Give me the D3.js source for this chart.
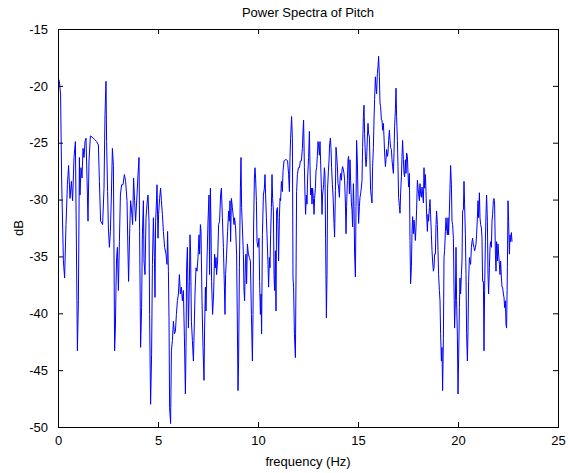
<!DOCTYPE html>
<html><head><meta charset="utf-8">
<script src="https://cdn.jsdelivr.net/npm/d3@7"></script>
<style>
body{margin:0;background:#fff}
text{font-family:"Liberation Sans",Arial,Helvetica,sans-serif;fill:#000}
</style>
</head><body>
<svg id="chart" width="571" height="473"></svg>
<script>
// [frequency (Hz), power (dB)], split by band
const band0 = [[0,-19.3],[0.07,-19.6],[0.13,-20.8],[0.18,-28.1],[0.27,-35.4],[0.33,-36.9],[0.4,-32.2],[0.47,-28.7],[0.53,-27],[0.6,-29.9],[0.67,-28.4],[0.73,-30.1],[0.8,-26.3],[0.87,-24.9],[0.92,-33.9],[0.97,-43.3],[1.02,-38.9],[1.07,-26.3],[1.1,-29.6],[1.15,-27.2],[1.2,-28.1],[1.25,-25.5],[1.3,-26.3],[1.35,-24.9],[1.4,-24.6],[1.45,-28.1],[1.5,-31.9],[1.55,-26.6],[1.62,-24.4],[1.7,-24.5],[1.82,-24.7],[1.93,-24.9],[2.02,-25.2],[2.07,-28.4],[2.13,-31.9],[2.23,-32.2],[2.3,-29],[2.35,-22.5],[2.4,-19.6],[2.43,-24.9],[2.48,-29.3],[2.52,-32.5],[2.57,-34.2],[2.62,-32.8],[2.67,-29.6],[2.72,-25.5],[2.77,-27],[2.8,-34.8],[2.83,-43.3],[2.87,-41.3],[2.9,-37.7],[2.93,-35.1],[2.97,-34.2],[3.02,-38],[3.07,-33.7],[3.12,-29.6],[3.18,-28.7],[3.25,-28.7],[3.32,-27.8],[3.38,-28.4],[3.45,-30.1],[3.5,-34.8],[3.53,-37.2],[3.58,-33.1],[3.63,-30.1],[3.68,-31],[3.73,-32.2],[3.78,-28.1],[3.83,-30.1],[3.88,-31.9],[3.95,-29.6],[4.0,-27.8],[4.05,-26.3],[4.08,-32.8],[4.13,-43],[4.18,-39.5],[4.22,-33.1],[4.27,-30.1],[4.3,-35.4],[4.35,-36.6],[4.4,-31.6],[4.45,-30.4],[4.5,-29.6],[4.55,-31.9],[4.58,-40.1]];
const band1 = [[4.63,-48],[4.68,-43.6],[4.72,-35.7],[4.77,-31.6],[4.82,-35.1],[4.85,-38.6],[4.88,-31.9],[4.92,-30.4],[4.95,-28.7],[5.0,-33.4],[5.03,-31.3],[5.08,-29.9],[5.13,-29],[5.17,-30.1],[5.22,-31.3],[5.27,-32.8],[5.33,-34.2],[5.4,-34.8],[5.45,-35.7],[5.48,-32.8],[5.52,-36.3],[5.55,-40.4],[5.58,-48.3],[5.63,-49.7],[5.67,-43.3],[5.72,-42.4],[5.77,-40.7],[5.82,-41.8],[5.87,-41.6],[5.92,-40.1],[5.97,-38.9],[6.02,-38.3],[6.07,-36.6],[6.12,-38.3],[6.17,-37.7],[6.22,-38.9],[6.27,-38],[6.32,-42.1],[6.37,-47.1],[6.4,-43],[6.43,-36],[6.47,-34.2],[6.52,-41.3],[6.57,-37.2],[6.6,-33.1],[6.63,-34.8],[6.67,-40.7],[6.72,-42.4],[6.77,-44.2],[6.8,-42.1],[6.85,-38.3],[6.9,-36],[6.95,-36.3],[7.0,-35.1],[7.05,-33.1],[7.08,-34.8],[7.12,-32.2],[7.15,-32.8],[7.2,-38.9],[7.25,-43],[7.3,-45.9],[7.33,-41.3],[7.37,-37.7],[7.4,-39.8],[7.45,-35.4],[7.5,-31.9],[7.55,-29.6],[7.58,-36.6],[7.62,-29],[7.65,-32.5],[7.68,-37.2],[7.73,-40.1],[7.78,-38.3],[7.83,-34.8],[7.87,-36],[7.9,-35.1],[7.93,-36.6],[7.98,-35.4],[8.03,-32.2],[8.08,-31.9],[8.13,-29.6],[8.17,-29],[8.22,-31.6],[8.27,-34.2],[8.32,-37.7],[8.35,-40.1],[8.38,-36.6],[8.43,-34.8],[8.48,-32.8],[8.53,-31],[8.57,-31.9],[8.6,-30.1],[8.63,-33.7],[8.67,-29.9],[8.72,-30.7],[8.77,-31.6],[8.8,-32.2],[8.83,-31.6],[8.88,-32.5],[8.93,-34.8],[8.97,-41.3],[9.0,-46.8],[9.03,-44.2],[9.07,-36],[9.12,-29],[9.15,-26.3],[9.18,-30.7]];
const band2 = [[9.27,-34.8],[9.3,-38],[9.33,-38.9],[9.37,-35.4],[9.4,-34.8],[9.43,-37.4],[9.47,-33.9],[9.52,-34.8],[9.57,-35.1],[9.62,-35.4],[9.67,-40.1],[9.72,-44.2],[9.75,-40.1],[9.78,-32.5],[9.82,-28.1],[9.85,-27.2],[9.88,-28.1],[9.92,-30.1],[9.95,-33.7],[10.0,-34.2],[10.05,-33.4],[10.08,-37.2],[10.12,-40.1],[10.15,-38.3],[10.18,-41.8],[10.22,-33.1],[10.27,-29.6],[10.32,-29],[10.35,-27.8],[10.38,-29.6],[10.42,-31.6],[10.45,-33.1],[10.5,-35.7],[10.53,-37.7],[10.57,-35.1],[10.6,-36],[10.63,-33.1],[10.67,-30.7],[10.7,-27.8],[10.73,-29.9],[10.77,-31],[10.8,-36.6],[10.83,-38],[10.87,-34.5],[10.9,-39.8],[10.93,-31],[10.97,-30.7],[11.0,-32.2],[11.03,-35.4],[11.07,-31.6],[11.1,-29.9],[11.13,-30.1],[11.17,-28.4],[11.22,-29.3],[11.25,-27.5],[11.3,-26.6],[11.35,-26.5],[11.43,-26.5],[11.48,-26.6],[11.53,-27.8],[11.57,-29.3],[11.6,-26.3],[11.63,-24.6],[11.68,-22.7],[11.72,-24.6],[11.75,-36.9],[11.78,-37.7],[11.82,-41.8],[11.87,-43.9],[11.9,-36.9],[11.93,-29.3],[11.97,-27.8],[12.02,-27.2],[12.07,-27.2],[12.12,-26.6],[12.17,-26.6],[12.22,-25.5],[12.25,-24],[12.28,-23],[12.32,-27.2],[12.35,-29.6],[12.38,-31.3],[12.42,-29.6],[12.45,-30.4],[12.48,-28.1],[12.53,-26.3],[12.57,-24],[12.6,-27],[12.63,-29.6],[12.67,-29],[12.7,-30.4],[12.73,-29],[12.77,-29.9],[12.8,-31.3],[12.83,-29.9],[12.87,-29],[12.9,-27.5],[12.93,-27.2],[12.97,-26.1],[13.0,-24.9],[13.03,-25.2],[13.07,-26.1],[13.1,-24.9],[13.13,-26.6],[13.17,-29],[13.2,-31.3],[13.23,-29.6],[13.28,-28.7],[13.32,-27.2],[13.35,-27.8],[13.38,-33.4],[13.42,-40.4],[13.45,-36.6],[13.48,-29],[13.52,-27.5],[13.55,-26.6],[13.58,-25.2],[13.62,-24.6],[13.65,-25.5],[13.68,-27.2],[13.72,-28.7],[13.75,-29.6]];
const band3 = [[13.8,-32.1],[13.83,-33.3],[13.87,-29.2],[13.9,-25.4],[13.93,-26],[13.97,-27.1],[14.0,-28.6],[14.03,-28.9],[14.07,-29.8],[14.1,-28.3],[14.13,-27.7],[14.17,-28.3],[14.2,-27.4],[14.23,-27.1],[14.27,-27.4],[14.3,-27.7],[14.33,-28.3],[14.37,-30.3],[14.4,-33],[14.43,-30.6],[14.47,-28.3],[14.5,-26.5],[14.53,-26.2],[14.57,-29.5],[14.6,-26.5],[14.63,-28.3],[14.67,-30.3],[14.7,-30.9],[14.73,-32.4],[14.77,-28.6],[14.8,-30.6],[14.83,-34.7],[14.87,-36.8],[14.9,-30.6],[14.93,-24.8],[14.97,-26.8],[15.0,-29.8],[15.03,-32.1],[15.07,-30.6],[15.1,-29.8],[15.13,-29.5],[15.17,-28.9],[15.2,-28.3],[15.23,-25.4],[15.27,-22.7],[15.3,-21.7],[15.33,-24.2],[15.37,-26.2],[15.4,-27.1],[15.43,-26.5],[15.47,-24.5],[15.5,-23.3],[15.53,-24.2],[15.57,-24.5],[15.6,-26.8],[15.63,-29.2],[15.67,-29.8],[15.7,-30.3],[15.73,-27.1],[15.77,-25.4],[15.8,-23],[15.83,-21.2],[15.87,-19.2],[15.9,-20.1],[15.93,-20.7],[15.97,-18.9],[16.0,-18.3],[16.03,-17.4],[16.07,-19.2],[16.1,-21.5],[16.13,-21.8],[16.17,-23],[16.2,-23],[16.23,-23.9],[16.27,-23.3],[16.3,-24.5],[16.33,-25.9],[16.37,-27.1],[16.4,-26.5],[16.43,-25.6],[16.47,-26.2],[16.5,-25.9],[16.53,-24.8],[16.57,-23.9],[16.6,-24.8],[16.63,-25.4],[16.67,-25.6],[16.7,-26.5],[16.73,-27.1],[16.77,-27.7],[16.8,-25.9],[16.83,-23.6],[16.87,-22.1],[16.9,-20.2],[16.93,-22.7],[16.97,-24.8],[17.0,-27.1],[17.03,-29.8],[17.07,-30.6],[17.1,-31.2],[17.13,-29.5],[17.17,-28],[17.2,-26.2],[17.23,-24.8],[17.27,-26.5],[17.3,-27.7],[17.33,-28],[17.37,-26.5],[17.4,-27.7],[17.43,-25.9],[17.47,-26.2],[17.5,-27.7],[17.53,-28.9],[17.57,-27.7],[17.6,-33.6],[17.63,-37.4],[17.67,-35.9],[17.7,-33],[17.73,-31.5],[17.77,-33],[17.8,-31.8],[17.83,-32.4],[17.87,-33.6],[17.9,-32.4],[17.93,-30.9],[17.97,-28.3],[18.0,-28.9],[18.03,-29.5],[18.07,-30.1],[18.1,-28.6],[18.13,-29.5],[18.17,-29.8],[18.2,-28.9],[18.23,-29.5],[18.27,-30.3]];
const band4 = [[18.3,-27.2],[18.33,-29],[18.37,-27.8],[18.4,-29.3],[18.43,-31.3],[18.47,-32.8],[18.5,-31.3],[18.53,-31.9],[18.57,-30.7],[18.6,-30],[18.63,-31.3],[18.67,-33.1],[18.7,-34.5],[18.73,-35.4],[18.77,-36.3],[18.8,-36],[18.83,-34.8],[18.87,-34.8],[18.9,-32.2],[18.93,-31],[18.97,-32.2],[19.0,-34.5],[19.03,-36.6],[19.07,-38],[19.1,-38.9],[19.13,-41.8],[19.17,-44.2],[19.2,-43],[19.23,-46.8],[19.27,-42.2],[19.3,-35.1],[19.33,-34.5],[19.37,-32.8],[19.4,-31.6],[19.43,-32.5],[19.47,-33.1],[19.5,-31.6],[19.53,-33.1],[19.57,-31],[19.6,-29],[19.63,-27],[19.67,-28.7],[19.7,-31.9],[19.73,-32.2],[19.77,-33.4],[19.8,-37.7],[19.83,-41.3],[19.87,-38.9],[19.9,-34.2],[19.93,-38.9],[19.97,-42.1],[20.0,-47.1],[20.03,-44.2],[20.07,-39.5],[20.1,-36.9],[20.13,-38.3],[20.17,-36.6],[20.2,-35.4],[20.23,-31],[20.27,-30.9],[20.3,-28.4],[20.33,-30.4],[20.37,-33.1],[20.4,-36.6],[20.43,-41.8],[20.47,-44.2],[20.5,-41.6],[20.53,-37.2],[20.57,-35.1],[20.6,-35.4],[20.63,-35.7],[20.67,-34.2],[20.7,-33.7],[20.73,-33.4],[20.77,-34],[20.8,-34.2],[20.83,-34.5],[20.87,-34.2],[20.9,-33.9],[20.93,-33.1],[20.97,-31.6],[21.0,-30.1],[21.03,-31.6],[21.07,-29.4],[21.1,-31.6],[21.13,-32.2],[21.17,-32.5],[21.2,-33.4],[21.23,-37.2],[21.27,-37.2],[21.3,-43.3],[21.33,-38],[21.37,-33.7],[21.4,-31.3],[21.43,-29.6],[21.47,-31.9],[21.5,-36.6],[21.53,-38.3],[21.57,-36],[21.6,-34.2],[21.63,-33.7],[21.67,-34.2],[21.7,-31.9],[21.73,-31.3],[21.77,-30.1],[21.8,-29.9],[21.83,-30.4],[21.87,-34.8],[21.9,-36.3],[21.93,-33.7],[21.97,-35.4],[22.0,-33.9],[22.03,-34.8],[22.07,-35.7],[22.1,-36.6],[22.13,-35.4],[22.17,-36.9],[22.2,-37.7],[22.23,-37.7],[22.27,-38.3],[22.3,-38.6],[22.33,-39.5],[22.37,-38.9],[22.4,-41],[22.43,-41.3],[22.47,-36],[22.5,-30.1],[22.53,-31.9],[22.57,-34.8],[22.6,-33.1],[22.63,-33.7],[22.67,-32.9],[22.7,-33.7]];

const xTicks = [0, 5, 10, 15, 20, 25];
const yTicks = [-15, -20, -25, -30, -35, -40, -45, -50];
const titleText = "Power Spectra of Pitch";
const xLabel = "frequency (Hz)";
const yLabel = "dB";

const spectrum = band0.concat(band1, band2, band3, band4);

const svg = d3.select("#chart");
const m = {left: 58, top: 29, right: 13, bottom: 46};
const W = 571 - m.left - m.right, H = 473 - m.top - m.bottom;

const xs = d3.scaleLinear().domain([0, 25]).range([m.left, m.left + W]);
const ys = d3.scaleLinear().domain([-50, -15]).range([m.top + H, m.top]);

svg.append("rect").attr("width", 571).attr("height", 473).attr("fill", "#fff");

// data line (clipped to plot box)
svg.append("clipPath").attr("id", "clip").append("rect")
  .attr("x", m.left).attr("y", m.top).attr("width", W).attr("height", H);
svg.append("path")
  .datum(spectrum)
  .attr("clip-path", "url(#clip)")
  .attr("fill", "none")
  .attr("stroke", "#0000ff")
  .attr("stroke-width", 1)
  .attr("d", d3.line().x(d => xs(d[0])).y(d => ys(d[1])));

// axes: inward ticks on all four sides
const fmt = d => d3.format("d")(d).replace("\u2212", "-");
const gBottom = svg.append("g").attr("transform", `translate(0,${m.top + H})`)
  .call(d3.axisBottom(xs).tickValues(xTicks).tickSize(-5).tickPadding(9).tickFormat(fmt));
const gTop = svg.append("g").attr("transform", `translate(0,${m.top})`)
  .call(d3.axisTop(xs).tickValues(xTicks).tickSize(-5).tickFormat(""));
const gLeft = svg.append("g").attr("transform", `translate(${m.left},0)`)
  .call(d3.axisLeft(ys).tickValues(yTicks).tickSize(-5).tickPadding(10).tickFormat(fmt));
const gRight = svg.append("g").attr("transform", `translate(${m.left + W},0)`)
  .call(d3.axisRight(ys).tickValues(yTicks).tickSize(-5).tickFormat(""));

[gBottom, gTop, gLeft, gRight].forEach(g => {
  g.selectAll(".domain").attr("stroke", "#000").attr("stroke-width", 1);
  g.selectAll(".tick line").attr("stroke", "#000");
  g.selectAll("text").attr("font-size", 13).attr("font-family", "Liberation Sans, Arial, sans-serif").attr("fill", "#000");
});

svg.append("text").attr("x", m.left + W / 2).attr("y", 17)
  .attr("text-anchor", "middle").attr("font-size", 13).text(titleText);
svg.append("text").attr("x", m.left + W / 2).attr("y", 466)
  .attr("text-anchor", "middle").attr("font-size", 13).text(xLabel);
svg.append("text").attr("transform", `translate(23,${m.top + H / 2}) rotate(-90)`)
  .attr("text-anchor", "middle").attr("font-size", 13).text(yLabel);
</script>
</body></html>
